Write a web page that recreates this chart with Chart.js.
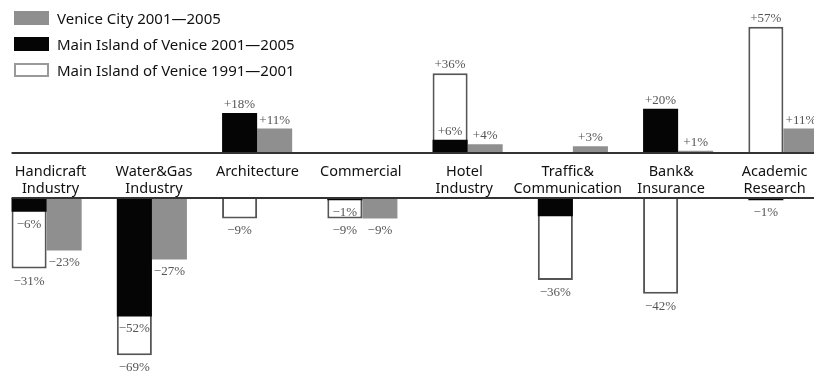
<!DOCTYPE html>
<html>
<head>
<meta charset="utf-8">
<script src="https://cdn.jsdelivr.net/npm/chart.js@4/dist/chart.umd.min.js"></script>
<style>
  html, body { margin: 0; padding: 0; background: #fff; }
  body { width: 814px; height: 376px; position: relative; overflow: hidden; }
  #top-chart { position: absolute; left: -6px; top: 0; }
  #bottom-chart { position: absolute; left: -6px; top: 196px; }
  .legend { position: absolute; left: 14px; top: 5px; font: 15px 'Noto Sans', sans-serif; color: #111; }
  .legend-row { display: flex; align-items: center; height: 26px; }
  .legend-box { width: 35px; height: 14px; box-sizing: border-box; margin-right: 8px; }
</style>
</head>
<body>
<canvas id="top-chart" width="842" height="198"></canvas>
<canvas id="bottom-chart" width="842" height="180"></canvas>
<div class="legend" id="legend"></div>
<script>
/* ═══════════════════════════════════════════════════
   DATA  (change in %)
═══════════════════════════════════════════════════ */
const categories = [
  ['Handicraft', 'Industry'], ['Water&Gas', 'Industry'], ['Architecture'], ['Commercial'],
  ['Hotel', 'Industry'], ['Traffic&', 'Communication'], ['Bank&', 'Insurance'], ['Academic', 'Research']
];
const seriesNames = ['Venice City 2001—2005', 'Main Island of Venice 2001—2005', 'Main Island of Venice 1991—2001'];
const cityChange0105 = [-23, -27, 11, -9, 4, 3, 1, 11];
const islandChange0105 = [-6, -52, 18, -1, 6, -8, 20, -1];
const islandChange9101 = [-31, -69, -9, -9, 36, -36, -42, 57];
const islandChange0105Unlabelled = [5];   // traffic bar carries no value label in the source

const GRAY = '#8f8f8f';
const BLACK = '#050505';
const OUTLINE = '#555';

function pos(arr) { return arr.map(v => v > 0 ? v : null); }
function neg(arr) { return arr.map(v => v < 0 ? v : null); }

// black and white share one slot (stack 'island'), gray sits next to it
function buildDatasets(pick) {
  return [
    { label: seriesNames[1], data: pick(islandChange0105), backgroundColor: BLACK, borderWidth: 0,
      stack: 'island', noLabel: islandChange0105Unlabelled },
    { label: seriesNames[2], data: pick(islandChange9101), backgroundColor: '#fff', borderColor: OUTLINE,
      borderWidth: 2, stack: 'island', noLabel: [] },
    { label: seriesNames[0], data: pick(cityChange0105), backgroundColor: GRAY, borderWidth: 0,
      stack: 'city', noLabel: [] },
  ];
}

const valueLabels = {
  id: 'valueLabels',
  afterDatasetsDraw(chart) {
    const ctx = chart.ctx;
    ctx.save();
    ctx.font = '13px "Liberation Serif", serif';
    ctx.fillStyle = '#555';
    ctx.textAlign = 'center';
    ctx.textBaseline = 'middle';
    chart.data.datasets.forEach((ds, di) => {
      chart.getDatasetMeta(di).data.forEach((bar, i) => {
        const v = ds.data[i];
        if (v == null || ds.noLabel.includes(i)) return;
        const txt = (v > 0 ? '+' : '\u2212') + Math.abs(v) + '%';
        ctx.fillText(txt, bar.x, v > 0 ? bar.y - 8.5 : bar.y + 12.5);
      });
    });
    ctx.restore();
  }
};

const baseLine = {
  id: 'baseLine',
  afterDatasetsDraw(chart) {
    const ctx = chart.ctx;
    const first = chart.getDatasetMeta(0).data[0];
    const y = chart.scales.y.getPixelForValue(0);
    ctx.save();
    ctx.strokeStyle = '#333';
    ctx.lineWidth = 2;
    ctx.beginPath();
    ctx.moveTo(first.x - first.width / 2, y);
    ctx.lineTo(chart.width, y);
    ctx.stroke();
    ctx.restore();
  }
};

function commonOptions(yMin, yMax, padding) {
  return {
    responsive: false,
    animation: false,
    layout: { padding },
    plugins: { legend: { display: false }, tooltip: { enabled: false } },
    datasets: { bar: { categoryPercentage: 0.666, barPercentage: 1.0 } },
    scales: {
      x: { display: false },
      y: { display: false, stacked: false, min: yMin, max: yMax }
    }
  };
}

// the category names in the source sit on a slightly tighter pitch than the bars,
// so they get their own linear axis
const topOptions = commonOptions(0, 60, { top: 20, left: 0, right: 0, bottom: 0 });
topOptions.scales.xl = {
  type: 'linear',
  position: 'bottom',
  offset: false,
  min: -0.547,
  max: 7.594,
  grid: { display: false, drawTicks: false, offset: false },
  border: { display: false },
  afterBuildTicks: s => { s.ticks = categories.map((c, i) => ({ value: i })); },
  ticks: {
    color: '#111', padding: 11, maxRotation: 0, autoSkip: false,
    font: { family: 'Noto Sans', size: 14.5, lineHeight: 1.15 },
    callback: v => categories[v]
  },
  afterFit: s => { s.height = 45; }
};

new Chart(document.getElementById('top-chart'), {
  type: 'bar',
  data: { labels: categories, datasets: buildDatasets(pos) },
  options: topOptions,
  plugins: [valueLabels, baseLine]
});

new Chart(document.getElementById('bottom-chart'), {
  type: 'bar',
  data: { labels: categories, datasets: buildDatasets(neg) },
  options: commonOptions(-72, 0, { top: 2, left: 0, right: 0, bottom: 14 }),
  plugins: [valueLabels, baseLine]
});

// legend
const legendEl = document.getElementById('legend');
[
  { name: seriesNames[0], style: 'background:' + GRAY },
  { name: seriesNames[1], style: 'background:' + BLACK },
  { name: seriesNames[2], style: 'background:#fff;border:2px solid #999' },
].forEach(item => {
  const row = document.createElement('div');
  row.className = 'legend-row';
  row.innerHTML = '<span class="legend-box" style="' + item.style + '"></span><span></span>';
  row.lastChild.textContent = item.name;
  legendEl.appendChild(row);
});
</script>
</body>
</html>
